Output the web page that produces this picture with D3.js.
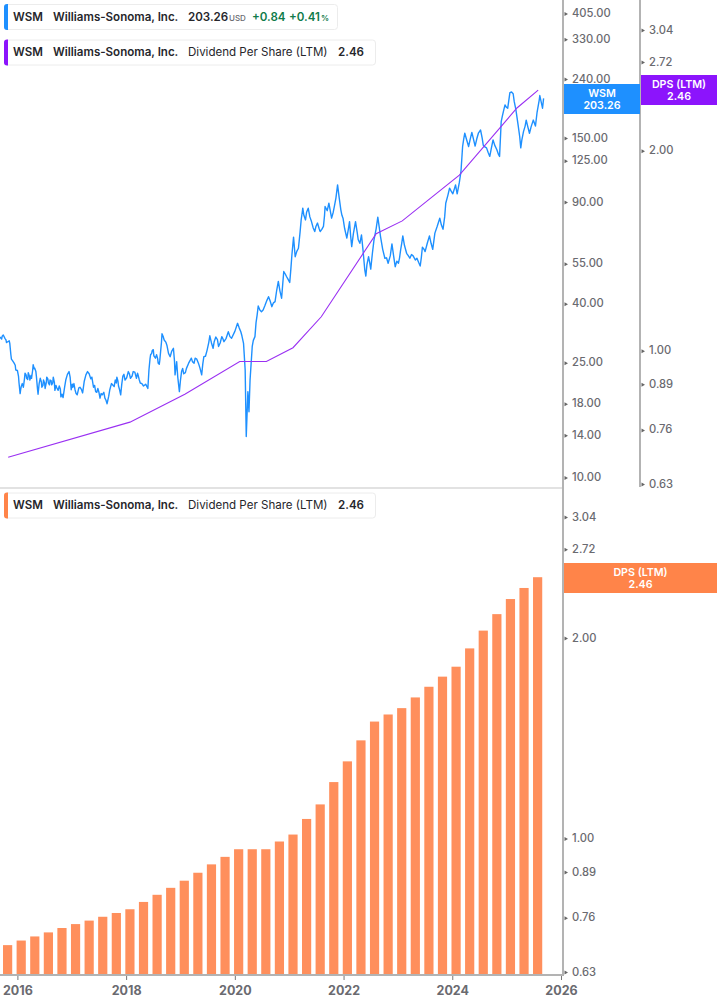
<!DOCTYPE html>
<html><head><meta charset="utf-8">
<style>
html,body{margin:0;padding:0;background:#fff}
svg{display:block}
text{font-family:Inter,"Noto Sans",sans-serif}
.tk text{font-size:11.2px;font-weight:500;fill:#6a6a70}
.yr text{font-size:12.5px;font-weight:700;fill:#6a6a70}
</style>
<script src="https://cdn.jsdelivr.net/npm/d3@7"></script>
</head><body>
<svg id="c" width="717" height="1005"></svg>
<script>
const priceYears=[2015.68,2015.71,2015.74,2015.77,2015.80,2015.85,2015.86,2015.88,2015.91,2015.94,2015.97,2016.00,2016.03,2016.05,2016.07,2016.11,2016.14,2016.17,2016.20,2016.23,2016.26,2016.29,2016.32,2016.35,2016.38,2016.42,2016.45,2016.48,2016.51,2016.54,2016.57,2016.60,2016.63,2016.66,2016.69,2016.72,2016.77,2016.80,2016.84,2016.89,2016.95,2016.99,2017.02,2017.06,2017.10,2017.15,2017.20,2017.26,2017.32,2017.37,2017.40,2017.44,2017.48,2017.52,2017.56,2017.61,2017.65,2017.70,2017.75,2017.80,2017.83,2017.86,2017.90,2017.94,2017.98,2018.04,2018.08,2018.13,2018.19,2018.22,2018.26,2018.32,2018.40,2018.42,2018.45,2018.48,2018.51,2018.56,2018.59,2018.62,2018.66,2018.70,2018.75,2018.81,2018.87,2018.90,2018.93,2018.98,2019.02,2019.06,2019.11,2019.18,2019.22,2019.27,2019.33,2019.39,2019.43,2019.49,2019.54,2019.60,2019.65,2019.70,2019.76,2019.80,2019.88,2019.94,2020.05,2020.11,2020.16,2020.19,2020.21,2020.24,2020.26,2020.28,2020.32,2020.37,2020.41,2020.43,2020.49,2020.55,2020.62,2020.68,2020.74,2020.80,2020.86,2020.90,2020.95,2021.01,2021.05,2021.08,2021.11,2021.17,2021.22,2021.25,2021.30,2021.35,2021.41,2021.47,2021.52,2021.57,2021.63,2021.66,2021.73,2021.78,2021.83,2021.89,2021.95,2021.99,2022.06,2022.11,2022.15,2022.22,2022.27,2022.33,2022.39,2022.41,2022.46,2022.50,2022.56,2022.63,2022.68,2022.76,2022.82,2022.89,2022.95,2023.01,2023.05,2023.09,2023.16,2023.22,2023.28,2023.35,2023.41,2023.45,2023.50,2023.58,2023.64,2023.68,2023.77,2023.83,2023.88,2023.95,2024.01,2024.06,2024.09,2024.16,2024.19,2024.23,2024.30,2024.36,2024.42,2024.48,2024.52,2024.57,2024.63,2024.69,2024.75,2024.82,2024.87,2024.90,2024.94,2024.97,2025.02,2025.06,2025.12,2025.17,2025.21,2025.26,2025.31,2025.36,2025.42,2025.49,2025.53,2025.60,2025.61,2025.66,2025.68];
const priceValues=[30.3,29.8,30.8,30.0,29.0,29.4,28.8,26.3,25.1,24.6,23.3,23.2,21.0,19.3,20.4,20.3,22.7,21.8,22.8,21.5,21.8,24.3,23.6,22.1,19.2,21.8,20.3,21.5,20.1,22.0,21.0,21.5,20.7,22.0,19.8,20.3,20.5,18.8,18.7,21.5,23.0,19.9,20.3,19.9,19.1,20.3,19.4,22.4,22.6,22.0,20.3,19.6,20.1,18.6,19.1,18.6,17.8,19.9,20.7,21.5,22.0,20.5,19.1,22.2,21.5,23.0,21.8,23.0,21.8,22.4,21.0,20.5,20.1,23.3,26.3,27.2,26.1,26.3,24.6,25.2,31.1,29.6,28.4,25.9,27.7,22.4,24.9,19.6,23.0,22.6,23.6,25.2,24.9,25.6,24.6,22.4,25.9,27.3,30.6,27.7,30.3,28.1,30.4,29.2,31.6,30.0,33.8,31.6,28.8,23.3,13.7,19.6,16.7,21.5,28.1,30.4,36.1,38.8,37.1,38.8,41.8,38.6,40.2,47.2,41.3,51.1,49.1,46.8,58.4,67.2,57.5,61.5,77.1,84.7,77.1,84.7,76.1,70.3,75.2,70.3,73.2,85.8,88.1,78.2,85.8,102.0,83.6,78.2,66.7,76.1,62.3,76.1,65.8,68.4,51.8,49.3,57.5,52.1,65.8,78.8,67.5,56.8,54.6,63.7,53.1,54.6,60.7,67.9,59.1,56.8,57.9,56.8,53.4,62.0,59.9,67.9,61.0,69.4,78.2,71.6,88.1,99.4,95.0,102,95.0,113.5,138.5,154,138.5,155,139,154,158,140,137,128,146,135,128,169,183,193,188,213,211,186,165,137,156,171,154,171,163,201,208,188,203.26];
// further readings between the turning points above
const detailYears=[2015.72,2015.79,2015.89,2015.96,2016.02,2016.06,2016.09,2016.13,2016.16,2016.19,2016.22,2016.25,2016.28,2016.31,2016.34,2016.37,2016.40,2016.44,2016.47,2016.50,2016.53,2016.56,2016.59,2016.62,2016.65,2016.68,2016.71,2016.75,2016.79,2016.82,2016.87,2016.92,2016.97,2017.01,2017.04,2017.08,2017.13,2017.18,2017.23,2017.29,2017.35,2017.42,2017.46,2017.50,2017.54,2017.59,2017.63,2017.68,2017.73,2017.78,2017.82,2017.85,2017.88,2017.92,2017.96,2018.01,2018.06,2018.11,2018.16,2018.21,2018.24,2018.29,2018.36,2018.44,2018.47,2018.50,2018.54,2018.58,2018.61,2018.65,2018.68,2018.73,2018.78,2018.84,2018.89,2018.95,2019.00,2019.04,2019.09,2019.15,2019.20,2019.25,2019.30,2019.36,2019.41,2019.46,2019.52,2019.57,2019.62,2019.68,2019.73,2019.78,2019.84,2019.91,2020.00,2020.08,2020.13,2020.34,2020.39,2020.46,2020.52,2020.59,2020.65,2020.71,2020.77,2020.83,2020.88,2020.93,2020.98,2021.03,2021.14,2021.20,2021.24,2021.27,2021.32,2021.38,2021.44,2021.49,2021.55,2021.60,2021.65,2021.70,2021.76,2021.81,2021.86,2021.92,2021.97,2022.02,2022.09,2022.13,2022.18,2022.25,2022.30,2022.36,2022.43,2022.48,2022.53,2022.60,2022.66,2022.72,2022.79,2022.86,2022.92,2022.98,2023.03,2023.07,2023.12,2023.19,2023.25,2023.32,2023.38,2023.43,2023.48,2023.54,2023.61,2023.66,2023.72,2023.80,2023.86,2023.92,2023.98,2024.04,2024.08,2024.13,2024.21,2024.26,2024.33,2024.39,2024.45,2024.50,2024.55,2024.60,2024.66,2024.72,2024.78,2024.85,2024.92,2024.99,2025.04,2025.09,2025.14,2025.19,2025.24,2025.28,2025.34,2025.39,2025.45,2025.51,2025.56];
const detailValues=[30.5,29.6,25.4,24.2,22.2,19.9,20.9,21.7,22.4,21.6,22.2,22.3,23.2,23.5,23.0,20.0,20.9,21.2,20.6,21.0,21.0,21.7,20.7,21.4,21.0,21.1,20.6,19.8,20.0,19.2,20.4,22.5,22.0,20.8,20.9,19.3,20.2,19.9,21.3,23.0,21.7,20.6,19.5,19.5,19.3,19.5,18.3,18.9,20.9,20.4,21.0,21.3,19.9,20.8,22.5,21.9,22.6,22.2,22.9,22.7,21.6,20.9,20.8,25.5,26.6,27.4,25.6,25.5,24.4,29.0,30.5,29.1,26.6,27.1,25.0,22.0,21.5,23.6,22.8,24.6,25.6,24.6,25.4,23.6,24.4,26.0,29.0,28.9,29.2,29.7,28.9,29.9,30.0,30.4,31.7,32.6,30.6,29.5,34,37.6,37.6,40.6,40.4,39.8,44,43.7,46,50,48,52,60,70,82,80,82,79,72.5,73,72,71.5,80,83,82,82,92,92,80,72,72,68,69,70,64,60,54,55,59,72,72,61,57,58,58,55.5,57,64,63,58,58.5,56,55,57,61,64,64,65,73,74,79,94,97,99,97,104,147,147,147,147,147,156,148,138,132,137,140,130,176,190,200,214,198,175,150,146,163,162,162,167,182];
const dpsLineYears=[2015.83,2018.07,2019.08,2020.09,2020.58,2021.07,2021.59,2022.60,2023.08,2024.13,2025.19,2025.58];
const dpsLineValues=[0.689,0.778,0.857,0.96,0.96,1.007,1.121,1.495,1.563,1.832,2.312,2.46];
const barYears=[2015.82,2016.07,2016.32,2016.57,2016.82,2017.07,2017.32,2017.57,2017.82,2018.07,2018.32,2018.57,2018.82,2019.07,2019.32,2019.57,2019.82,2020.07,2020.32,2020.57,2020.82,2021.07,2021.32,2021.57,2021.82,2022.07,2022.32,2022.57,2022.82,2023.07,2023.32,2023.57,2023.82,2024.07,2024.32,2024.57,2024.82,2025.07,2025.32,2025.57];
const barValues=[0.689,0.700,0.710,0.720,0.731,0.741,0.750,0.760,0.770,0.780,0.800,0.820,0.840,0.861,0.885,0.911,0.935,0.96,0.96,0.96,0.986,1.010,1.066,1.121,1.211,1.301,1.399,1.493,1.530,1.564,1.623,1.684,1.744,1.805,1.923,2.045,2.165,2.281,2.370,2.46];
const priceTicks=[405,330,240,150,125,90,55,40,25,18,14,10];
const dpsTicks=[3.04,2.72,2.00,1.00,0.89,0.76,0.63];
const yearTicks=[2016,2018,2020,2022,2024,2026];

const svg=d3.select("#c");
const BLUE="#1e90ff",PURPLE="#8c14fc",ORANGE="#ff8449",BAR="#ff8f5c",GRID="#b3b3b3";
const x=d3.scaleLinear().domain([2016,2026]).range([17.4,561]);
const yP=d3.scaleLog().domain([10,405]).range([476,12]);
const yD=d3.scaleLog().domain([0.63,3.04]).range([483,29]);
const yB=d3.scaleLog().domain([0.63,3.04]).range([971,516]);
const BASE=974;

svg.append("line").attr("x1",0).attr("x2",563).attr("y1",488).attr("y2",488).attr("stroke","#e2e2e2").attr("stroke-width",2);

// bars
svg.append("g").selectAll("rect").data(barValues).join("rect")
 .attr("x",(d,i)=>x(barYears[i])-4.6).attr("width",9.2)
 .attr("y",d=>yB(d)).attr("height",d=>BASE-yB(d)).attr("fill",BAR);

// lines
const pricePts=priceYears.map((t,i)=>[t,priceValues[i]])
 .concat(detailYears.map((t,i)=>[t,detailValues[i]]))
 .sort((a,b)=>a[0]-b[0]);
const line=d3.line();
svg.append("path").attr("fill","none").attr("stroke",BLUE).attr("stroke-width",1.4).attr("stroke-linejoin","round")
 .attr("d",line(pricePts.map(p=>[x(p[0]),yP(p[1])])));
svg.append("path").attr("fill","none").attr("stroke","#9a30f2").attr("stroke-width",1.1)
 .attr("d",line(dpsLineValues.map((v,i)=>[x(dpsLineYears[i]),yD(v)])));

// value axes
function valueAxis(scale,ticks,xp,y1,y2,dy){
 const g=svg.append("g").attr("class","tk").attr("transform",`translate(${xp},${dy})`)
  .call(d3.axisRight(scale).tickValues(ticks).tickSize(0).tickPadding(9).tickFormat(d3.format(".2f")));
 g.select(".domain").remove();
 g.selectAll(".tick").append("path").attr("d","M1.5,-1.5L5,0.5L1.5,2.5Z").attr("fill","#666");
 svg.append("line").attr("x1",xp).attr("x2",xp).attr("y1",y1).attr("y2",y2).attr("stroke",GRID).attr("stroke-width",2);
}
valueAxis(yP,priceTicks,563,0,976,1);
valueAxis(yD,dpsTicks,640,0,487,0.5);
valueAxis(yB,dpsTicks,563,0,976,0.5);

// time axis
const gx=svg.append("g").attr("class","yr").attr("transform",`translate(0,${BASE+1})`)
 .call(d3.axisBottom(x).tickValues(yearTicks).tickSize(5).tickPadding(6).tickFormat(d3.format("d")));
gx.select(".domain").remove();
gx.selectAll(".tick line").attr("stroke","#777");
svg.append("line").attr("x1",0).attr("x2",563).attr("y1",BASE+1).attr("y2",BASE+1).attr("stroke",GRID).attr("stroke-width",2);

// value flags
function flag(xp,yp,w,h,col,a,b){
 svg.append("rect").attr("x",xp).attr("y",yp).attr("width",w).attr("height",h).attr("fill",col);
 const t=svg.append("g").attr("fill","#fff").attr("text-anchor","middle").attr("font-size",10.7).attr("font-weight",600);
 t.append("text").attr("x",xp+w/2).attr("y",yp+12.5).text(a);
 t.append("text").attr("x",xp+w/2).attr("y",yp+25).text(b);
}
flag(564,84,76,30,BLUE,"WSM","203.26");
flag(641,75,76,30,PURPLE,"DPS (LTM)","2.46");
flag(564,563,153,30,ORANGE,"DPS (LTM)","2.46");

// legends
function legend(y,w,col,parts){
 const g=svg.append("g");
 g.append("rect").attr("x",4.5).attr("y",y+.5).attr("width",w).attr("height",25).attr("rx",3).attr("fill","#fff").attr("stroke","#ececec");
 g.append("path").attr("d",`M8,${y}H7a3,3 0 0 0 -3,3V${y+23}a3,3 0 0 0 3,3H8Z`).attr("fill",col);
 parts.forEach(p=>g.append("text").attr("x",p[1]).attr("y",y+16.6).text(p[0])
   .attr("font-size",p[3]||11.55).attr("font-weight",p[2]||600).attr("fill",p[4]||"#26262b"));
}
const GREEN="#0f7b4a";
legend(4,333,BLUE,[["WSM",13],["Williams-Sonoma, Inc.",53],["203.26",188],["USD",229,500,8,"#6a6a70"],["+0.84",252,600,11.55,GREEN],["+0.41",289,600,11.55,GREEN],["%",321,600,8,GREEN]]);
const dp=[["WSM",13],["Williams-Sonoma, Inc.",53],["Dividend Per Share (LTM)",188,400],["2.46",338]];
legend(39.5,371,PURPLE,dp);
legend(492.5,371,ORANGE,dp);
</script>
</body></html>
